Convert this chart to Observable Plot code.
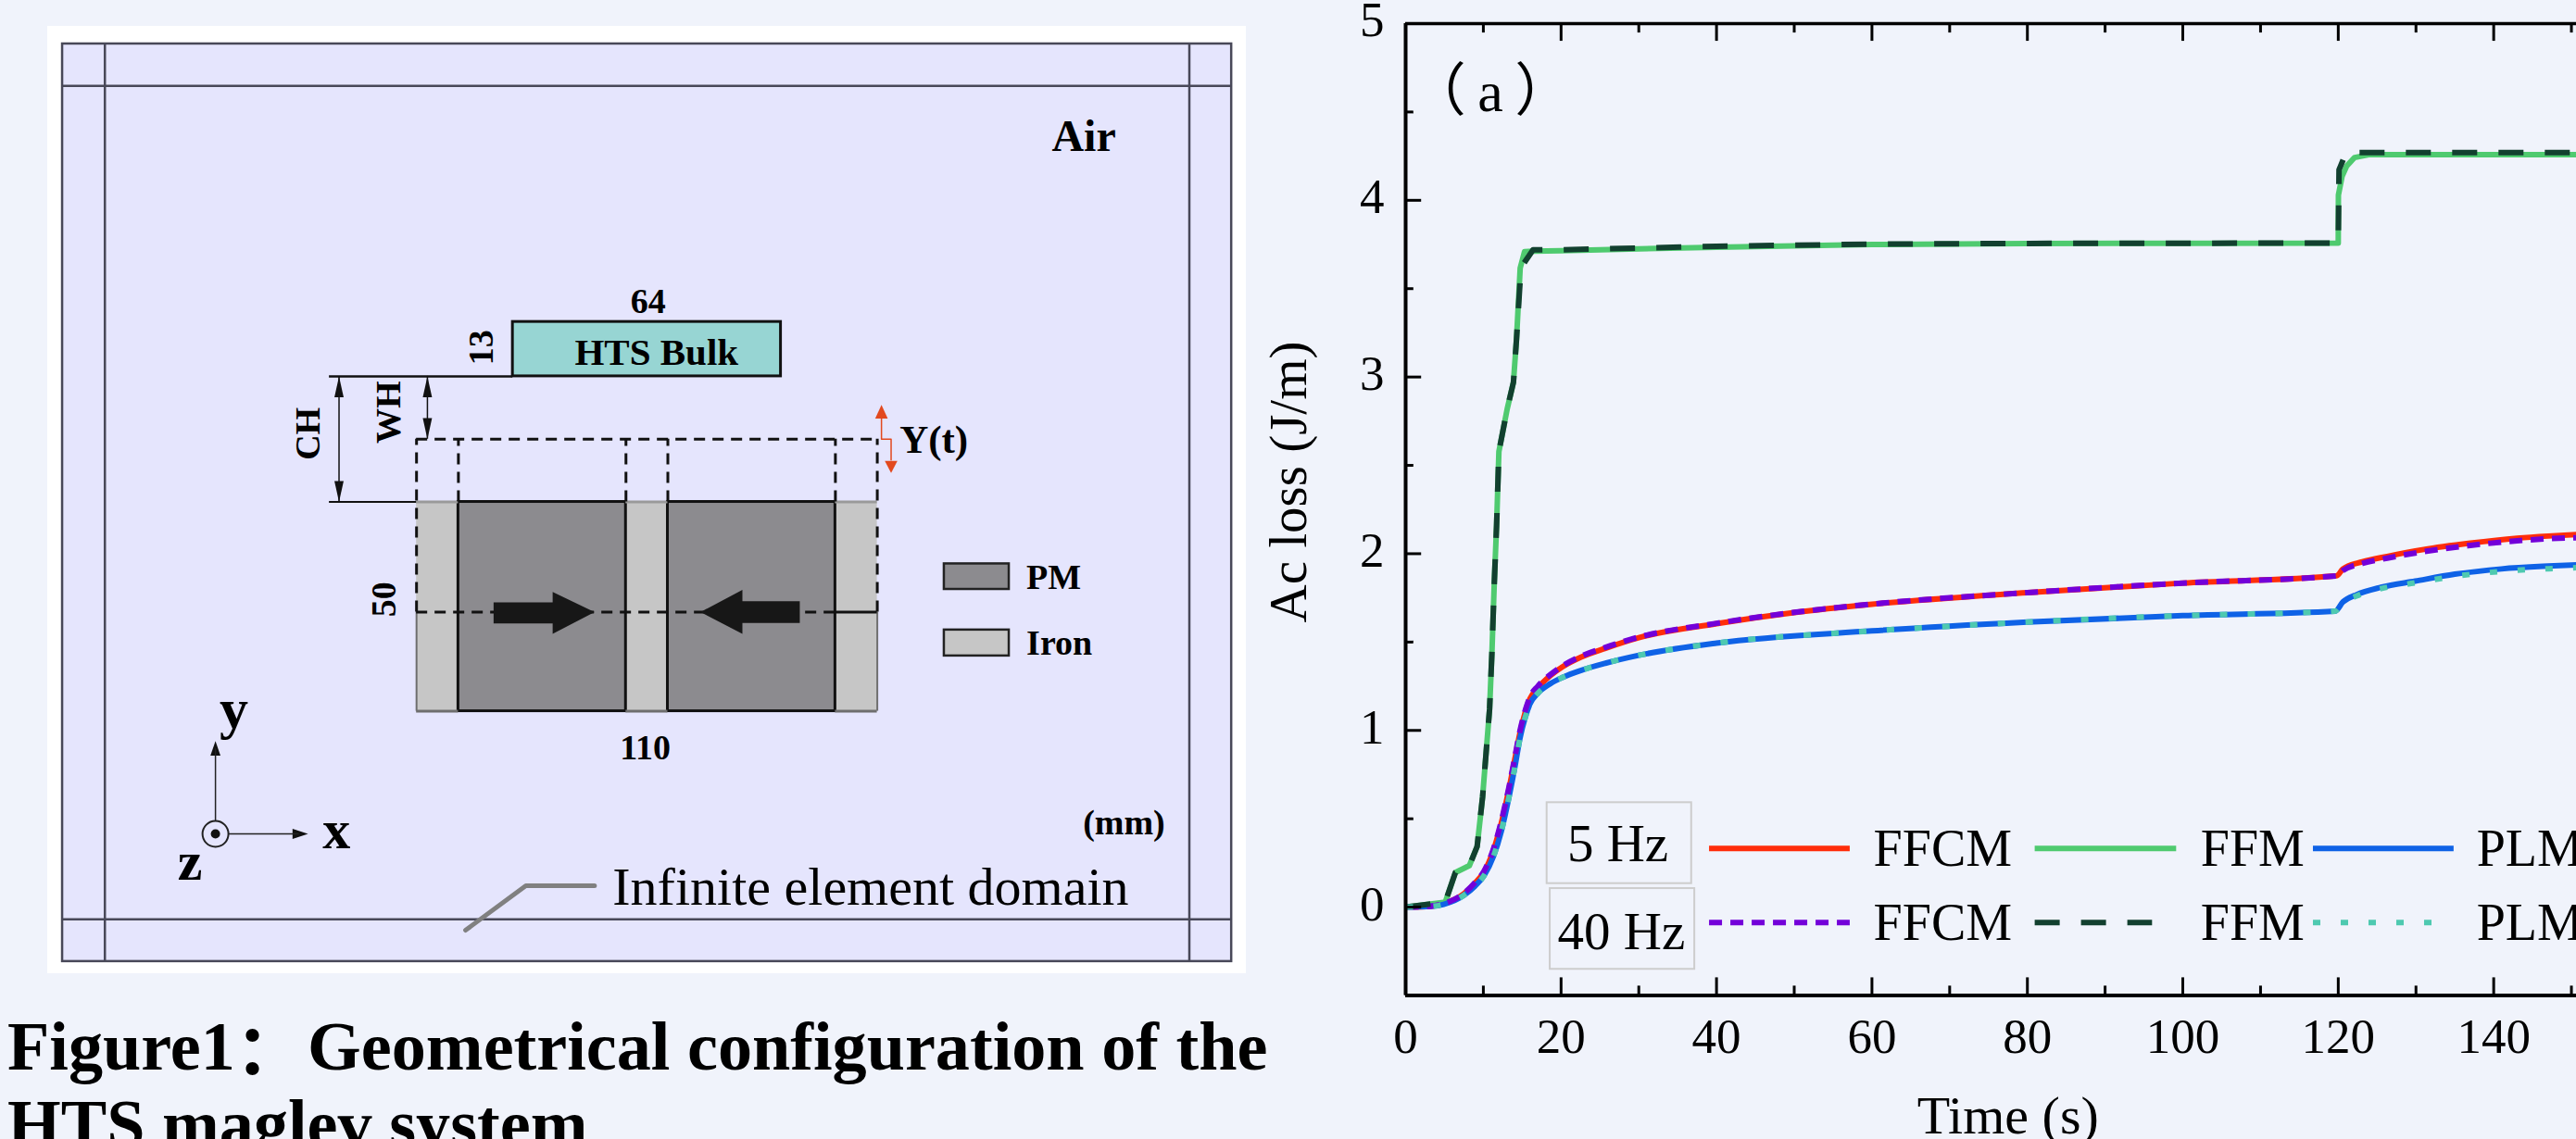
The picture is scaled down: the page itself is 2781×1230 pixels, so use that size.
<!DOCTYPE html>
<html>
<head>
<meta charset="utf-8">
<script src="https://cdn.jsdelivr.net/npm/d3@7"></script>
<script src="https://cdn.jsdelivr.net/npm/@observablehq/plot@0.6"></script>
<style>
html,body{margin:0;padding:0;background:#f0f3fb;width:2781px;height:1230px;overflow:hidden;}
#diagram{position:absolute;left:51px;top:28px;}
#chart{position:absolute;left:1350px;top:0;}
.cap{position:absolute;left:8px;font-family:"Liberation Serif",serif;font-weight:bold;font-size:74.2px;line-height:84px;color:#000;white-space:pre;}
.cap span{font-family:"Noto Sans CJK SC";line-height:0;position:relative;top:5px;margin-right:4px;}
</style>
</head>
<body>
<div id="diagram"></div>
<div id="chart"></div>
<div class="cap" style="top:1088px">Figure1<span>：</span>Geometrical configuration of the</div>
<div class="cap" style="top:1172px">HTS maglev system</div>
<script>
// ---------- Chart data (Time in s, Ac loss in J/m) ----------
const ffcm5T = [0,3.1,4.9,7.5,8.9,10.1,11.3,12.3,13.3,14.1,14.7,15.4,16,17,18.6,20.2,22.6,25.7,30,40,50,60,80,100,119.8,120.6,123.1,126.3,131,137,143,147,150.65];
const ffcm5V = [0,0.005,0.02,0.076,0.135,0.2,0.322,0.473,0.669,0.849,0.984,1.105,1.18,1.24,1.309,1.36,1.415,1.465,1.525,1.604,1.667,1.714,1.78,1.834,1.875,1.914,1.954,1.985,2.024,2.06,2.088,2.1,2.108];
const ffcm40T = ffcm5T;
const ffcm40V = [0,0.005,0.02,0.078,0.138,0.205,0.33,0.485,0.68,0.86,0.995,1.115,1.19,1.25,1.315,1.365,1.42,1.47,1.528,1.606,1.668,1.715,1.78,1.834,1.875,1.905,1.945,1.975,2.012,2.047,2.073,2.085,2.09];
const plm5T = [0,3.1,4.9,7.5,8.9,10.1,11.3,12.3,13.3,14.1,14.7,15.4,16,17,18.6,20.2,22.6,25.7,30,40,60,80,100,119.6,120.6,122.3,125.5,129.9,135,141,147,150.65];
const plm5V = [0,0.004,0.016,0.067,0.118,0.179,0.287,0.428,0.624,0.804,0.954,1.075,1.15,1.21,1.264,1.3,1.34,1.38,1.425,1.494,1.563,1.613,1.65,1.675,1.727,1.767,1.81,1.845,1.884,1.914,1.93,1.937];
const plm40T = plm5T;
const plm40V = [0,0.004,0.016,0.067,0.118,0.179,0.287,0.428,0.624,0.804,0.954,1.075,1.15,1.21,1.264,1.3,1.34,1.38,1.425,1.494,1.563,1.613,1.65,1.675,1.722,1.76,1.803,1.835,1.872,1.9,1.915,1.921];
const ffm5T = [0,5.1,6.4,8.2,9.2,9.9,10.8,11.1,11.4,11.7,12,13.07,13.87,14.26,14.74,15.3,16.4,20,30,40,60,80,100,120,120.02,120.5,121.1,122.1,123.9,150.65];
const ffm5V = [0,0.028,0.196,0.235,0.343,0.623,1.12,1.436,1.827,2.157,2.578,2.82,2.97,3.21,3.617,3.71,3.712,3.715,3.725,3.735,3.75,3.755,3.757,3.758,4.03,4.137,4.195,4.242,4.258,4.258];
const ffm40T = [0,5.1,6.4,8.2,9.2,9.9,10.8,11.1,11.4,11.7,12,13.07,13.87,14.26,14.74,15,16.4,20,30,40,60,80,100,120,120.1,121,150.65];
const ffm40V = [0,0.028,0.196,0.235,0.343,0.623,1.12,1.436,1.827,2.157,2.578,2.82,2.97,3.21,3.55,3.63,3.72,3.72,3.73,3.74,3.752,3.756,3.757,3.758,4.172,4.27,4.27];

const xMajor = [0,20,40,60,80,100,120,140];
const xMinor = [10,30,50,70,90,110,130,150];
const yMajor = [0,1,2,3,4,5];
const yMinor = [-0.5,0.5,1.5,2.5,3.5,4.5];

const colors = {ffcm5:"#ff2d0a",ffm5:"#4fca6f",plm5:"#0f62e6",ffcm40:"#7300d9",ffm40:"#12402f",plm40:"#4ec9b0"};
const dashes = {ffcm40:"14 9",ffm40:"27 23",plm40:"8 22"};

const series = [
  ["ffcm5",ffcm5T,ffcm5V,"monotone-x"],
  ["ffm5",ffm5T,ffm5V,"linear"],
  ["plm5",plm5T,plm5V,"monotone-x"],
  ["ffcm40",ffcm40T,ffcm40V,"monotone-x"],
  ["ffm40",ffm40T,ffm40V,"linear"],
  ["plm40",plm40T,plm40V,"monotone-x"]
];
const serif = "Liberation Serif";
const cjk = "Liberation Serif, Noto Sans CJK SC";

// legend (placed in the chart's own units)
const legendBoxes = [
  {x1:18.2,x2:36.8,y1:0.133,y2:0.591},
  {x1:18.6,x2:37.2,y1:-0.352,y2:0.105}
];
const legendHz = [{x:27.3,y:0.353,t:"5 Hz"},{x:27.76,y:-0.141,t:"40 Hz"}];
const legendLines = [
  {x1:39.1,x2:57.2,y:0.332,key:"ffcm5"},
  {x1:81,x2:99.2,y:0.332,key:"ffm5"},
  {x1:116.8,x2:134.9,y:0.332,key:"plm5"},
  {x1:39.1,x2:57.2,y:-0.087,key:"ffcm40"},
  {x1:81,x2:96.1,y:-0.087,key:"ffm40"},
  {x1:116.8,x2:132.1,y:-0.087,key:"plm40"}
];
const legendNames = ["FFCM","FFM","PLM"];
const legendNameX = [60.2,102.3,137.8];
const legendNameY = [0.327,-0.092];
const legendLabels = legendNameY.flatMap(y=>legendNames.map((t,i)=>({x:legendNameX[i],y,t})));

const chartMarks = [];
for (const [key,T,V,curve] of series) {
  chartMarks.push(Plot.lineY(T.map((t,i)=>({t,v:V[i]})),{x:"t",y:"v",stroke:colors[key],strokeWidth:6,curve,strokeDasharray:dashes[key],strokeLinecap:"butt",strokeLinejoin:"round"}));
}
for (const l of legendLines) {
  chartMarks.push(Plot.ruleY([l],{x1:"x1",x2:"x2",y:"y",stroke:colors[l.key],strokeWidth:6,strokeDasharray:dashes[l.key]}));
}
chartMarks.push(
  Plot.rect(legendBoxes,{x1:"x1",x2:"x2",y1:"y1",y2:"y2",fill:"none",stroke:"#cdcdcd",strokeWidth:2}),
  Plot.text(legendHz,{x:"x",y:"y",text:"t",fontFamily:serif,fontSize:57,fill:"#000"}),
  Plot.text(legendLabels,{x:"x",y:"y",text:"t",textAnchor:"start",fontFamily:serif,fontSize:56,fill:"#000"}),
  Plot.text([{x:10.9,y:4.61,t:"（\u2009a\u2009）"}],{x:"x",y:"y",text:"t",fontFamily:cjk,fontSize:62,fill:"#000"}),
  Plot.text([{x:-15,y:2.406,t:"Ac loss (J/m)"}],{x:"x",y:"y",text:"t",rotate:-90,fontFamily:serif,fontSize:57,fill:"#000"}),
  Plot.text([{x:77.5,y:-1.184,t:"Time (s)"}],{x:"x",y:"y",text:"t",fontFamily:serif,fontSize:58,fill:"#000"}),
  // inward ticks on bottom, top and left spines
  Plot.ruleX(xMajor,{y1:-0.5,y2:-0.4,stroke:"#000",strokeWidth:3}),
  Plot.ruleX(xMinor,{y1:-0.5,y2:-0.447,stroke:"#000",strokeWidth:3}),
  Plot.ruleX(xMajor,{y1:5,y2:4.9,stroke:"#000",strokeWidth:3}),
  Plot.ruleX(xMinor,{y1:5,y2:4.947,stroke:"#000",strokeWidth:3}),
  Plot.ruleY(yMajor,{x1:0,x2:2.05,stroke:"#000",strokeWidth:3}),
  Plot.ruleY(yMinor,{x1:0,x2:1.05,stroke:"#000",strokeWidth:3}),
  Plot.ruleX([0],{stroke:"#000",strokeWidth:4}),
  Plot.ruleY([-0.5],{stroke:"#000",strokeWidth:4}),
  Plot.ruleY([5],{stroke:"#000",strokeWidth:3.5}),
  Plot.axisX({ticks:xMajor,tickSize:0,tickPadding:24,fontSize:53,fontFamily:serif,fill:"#000",label:null,anchor:"bottom"}),
  Plot.axisY({ticks:yMajor,tickSize:0,tickPadding:23,fontSize:53,fontFamily:serif,fill:"#000",label:null,anchor:"left",dy:-3,tickFormat:"d"})
);
document.getElementById("chart").append(Plot.plot({
  width:1431,height:1230,
  marginLeft:167,marginRight:0,marginTop:25,marginBottom:155.5,
  style:{background:"transparent",overflow:"visible"},
  x:{domain:[0,150.65],axis:null},
  y:{domain:[-0.5,5],axis:null},
  marks:chartMarks
}));

// ---------- Diagram data, in millimetres ----------
const ironX = [[0,10],[50,60],[100,110]];
const pmX = [[10,50],[60,100]];
const arrayBottom = 0, arrayTop = 50, dashedTop = 65, dashedBottom = 23.7;
const bulk = {x1:23,x2:87,y1:80,y2:93};
const domainOuter = {x1:-84.5,x2:194.6,y1:-59.8,y2:159.4};
const domainLinesX = [-74.4,184.5];
const domainLinesY = [-49.7,149.4];

const boldLabels = [
  {x:159.3,y:137.2,t:"Air",s:48},
  {x:55.3,y:97.8,t:"64",s:38},
  {x:57.3,y:85.7,t:"HTS Bulk",s:41},
  {x:123.5,y:64.8,t:"Y(t)",s:43},
  {x:54.6,y:-8.9,t:"110",s:38},
  {x:-43.6,y:0.4,t:"y",s:62},
  {x:-19.1,y:-28.5,t:"x",s:60},
  {x:-54.1,y:-36.1,t:"z",s:60},
  {x:168.9,y:-26.8,t:"(mm)",s:38}
];
const rotatedLabels = [
  {x:15.5,y:86.9,t:"13"},
  {x:-6.6,y:71.4,t:"WH"},
  {x:-25.9,y:66.3,t:"CH"},
  {x:-7.7,y:26.7,t:"50"}
];
const keyLabels = [{x:145.6,y:31.9,t:"PM"},{x:145.6,y:16.3,t:"Iron"}];
const keyRects = [
  {x1:126,x2:141.5,y1:29.1,y2:35.2,fill:"#8c8b8f"},
  {x1:126,x2:141.5,y1:13.2,y2:19.4,fill:"#c6c6c6"}
];

const arrowBodies = [
  {id:"r",pts:[[18.4,26],[32.5,26],[32.5,28.5],[42.5,23.7],[32.5,18.5],[32.5,21],[18.4,21]]},
  {id:"l",pts:[[91.5,26.3],[77.8,26.3],[77.8,29],[67.8,23.7],[77.8,18.5],[77.8,21.1],[91.5,21.1]]}
];
const smallHeads = [
  {id:"ch1",pts:[[-18.5,80],[-19.6,75],[-17.4,75]]},
  {id:"ch2",pts:[[-18.5,50],[-19.6,55],[-17.4,55]]},
  {id:"wh1",pts:[[2.6,80],[1.5,75],[3.7,75]]},
  {id:"wh2",pts:[[2.6,65],[1.5,70],[3.7,70]]},
  {id:"yA",pts:[[-48,-7.1],[-49.2,-10.6],[-46.8,-10.6]]},
  {id:"xA",pts:[[-25.9,-29.3],[-29.6,-28.1],[-29.6,-30.5]]}
];
const redHeads = [
  {id:"rUp",pts:[[111,73.2],[109.5,69.9],[112.5,69.9]]},
  {id:"rDn",pts:[[113.3,56.9],[111.8,59.8],[114.8,59.8]]}
];
const flat = list => list.flatMap(p=>p.pts.map(([x,y])=>({id:p.id,x,y})));

const diagramMarks = [
  Plot.rect([domainOuter],{x1:"x1",x2:"x2",y1:"y1",y2:"y2",fill:"#e5e5fd",stroke:"#484858",strokeWidth:2.5}),
  Plot.ruleX(domainLinesX,{y1:domainOuter.y1,y2:domainOuter.y2,stroke:"#484858",strokeWidth:2.5}),
  Plot.ruleY(domainLinesY,{x1:domainOuter.x1,x2:domainOuter.x2,stroke:"#484858",strokeWidth:2.5}),
  // magnet array
  Plot.rect(ironX,{x1:d=>d[0],x2:d=>d[1],y1:arrayBottom,y2:arrayTop,fill:"#c6c6c6"}),
  Plot.rect(pmX,{x1:d=>d[0],x2:d=>d[1],y1:arrayBottom,y2:arrayTop,fill:"#8c8b8f",stroke:"#111",strokeWidth:3}),
  Plot.ruleY([arrayBottom],{x1:0,x2:10,stroke:"#6e6e6e",strokeWidth:3}),
  Plot.ruleY([arrayBottom],{x1:50,x2:60,stroke:"#6e6e6e",strokeWidth:3}),
  Plot.ruleY([arrayBottom],{x1:100,x2:110,stroke:"#6e6e6e",strokeWidth:3}),
  Plot.ruleY([arrayTop],{x1:0,x2:10,stroke:"#9a9a9a",strokeWidth:3}),
  Plot.ruleY([arrayTop],{x1:50,x2:60,stroke:"#9a9a9a",strokeWidth:3}),
  Plot.ruleY([arrayTop],{x1:100,x2:110,stroke:"#9a9a9a",strokeWidth:3}),
  Plot.ruleX([0,110],{y1:arrayBottom,y2:dashedBottom,stroke:"#6e6e6e",strokeWidth:2}),
  // displaced (dashed) array
  Plot.ruleY([dashedTop],{x1:0,x2:110,stroke:"#111",strokeWidth:3,strokeDasharray:"12 8"}),
  Plot.ruleY([dashedBottom],{x1:0,x2:100,stroke:"#111",strokeWidth:3,strokeDasharray:"12 8"}),
  Plot.ruleY([dashedBottom],{x1:100,x2:110,stroke:"#111",strokeWidth:3}),
  Plot.ruleX([0,110],{y1:dashedBottom,y2:dashedTop,stroke:"#111",strokeWidth:3,strokeDasharray:"12 8"}),
  Plot.ruleX([10,50,60,100],{y1:arrayTop,y2:dashedTop,stroke:"#111",strokeWidth:3,strokeDasharray:"12 8"}),
  // bulk
  Plot.rect([bulk],{x1:"x1",x2:"x2",y1:"y1",y2:"y2",fill:"#97d5d3",stroke:"#111",strokeWidth:3}),
  // dimension lines
  Plot.ruleY([80],{x1:-20.8,x2:23,stroke:"#111",strokeWidth:2.5}),
  Plot.ruleY([50],{x1:-20.8,x2:0,stroke:"#111",strokeWidth:2}),
  Plot.ruleX([-18.5],{y1:50,y2:80,stroke:"#111",strokeWidth:1.5}),
  Plot.ruleX([2.6],{y1:65,y2:80,stroke:"#111",strokeWidth:1.5}),
  // Y(t) motion
  Plot.line([{x:111,y:70},{x:111,y:65},{x:113.3,y:65},{x:113.3,y:60}],{x:"x",y:"y",stroke:"#e2491e",strokeWidth:1.5}),
  // thick magnetisation arrows and small heads
  Plot.line(flat(arrowBodies),{x:"x",y:"y",z:"id",fill:"#171717",stroke:"#171717",strokeWidth:0,curve:"linear-closed"}),
  Plot.line(flat(smallHeads),{x:"x",y:"y",z:"id",fill:"#111",stroke:"#111",strokeWidth:0,curve:"linear-closed"}),
  Plot.line(flat(redHeads),{x:"x",y:"y",z:"id",fill:"#e2491e",stroke:"#e2491e",strokeWidth:0,curve:"linear-closed"}),
  // coordinate triad
  Plot.ruleX([-48],{y1:-26.2,y2:-9,stroke:"#222",strokeWidth:1.5}),
  Plot.ruleY([-29.3],{x1:-44.9,x2:-28,stroke:"#222",strokeWidth:1.5}),
  Plot.dot([{x:-48,y:-29.3}],{x:"x",y:"y",r:14,fill:"none",stroke:"#222",strokeWidth:2}),
  Plot.dot([{x:-48,y:-29.3}],{x:"x",y:"y",r:5,fill:"#111"}),
  // key
  Plot.rect(keyRects,{x1:"x1",x2:"x2",y1:"y1",y2:"y2",fill:"fill",stroke:"#222",strokeWidth:2.5}),
  // leader to the infinite element domain
  Plot.line([{x:11.7,y:-52.3},{x:26.1,y:-41.7},{x:42.5,y:-41.7}],{x:"x",y:"y",stroke:"#808080",strokeWidth:5}),
  // text
  ...boldLabels.map(d=>Plot.text([d],{x:"x",y:"y",text:"t",fontFamily:serif,fontWeight:"bold",fontSize:d.s,fill:"#000"})),
  Plot.text(rotatedLabels,{x:"x",y:"y",text:"t",rotate:-90,fontFamily:serif,fontWeight:"bold",fontSize:38,fill:"#000"}),
  Plot.text(keyLabels,{x:"x",y:"y",text:"t",textAnchor:"start",fontFamily:serif,fontWeight:"bold",fontSize:38,fill:"#000"}),
  Plot.text([{x:46.8,y:-42.2,t:"Infinite element domain"}],{x:"x",y:"y",text:"t",textAnchor:"start",fontFamily:serif,fontSize:58,fill:"#000"})
];
document.getElementById("diagram").append(Plot.plot({
  width:1294,height:1023,
  marginLeft:0,marginRight:0,marginTop:0,marginBottom:0,
  style:{background:"#ffffff",overflow:"visible"},
  x:{domain:[-88.05,198.1],axis:null},
  y:{domain:[-62.7,163.6],axis:null},
  marks:diagramMarks
}));
</script>
</body>
</html>
